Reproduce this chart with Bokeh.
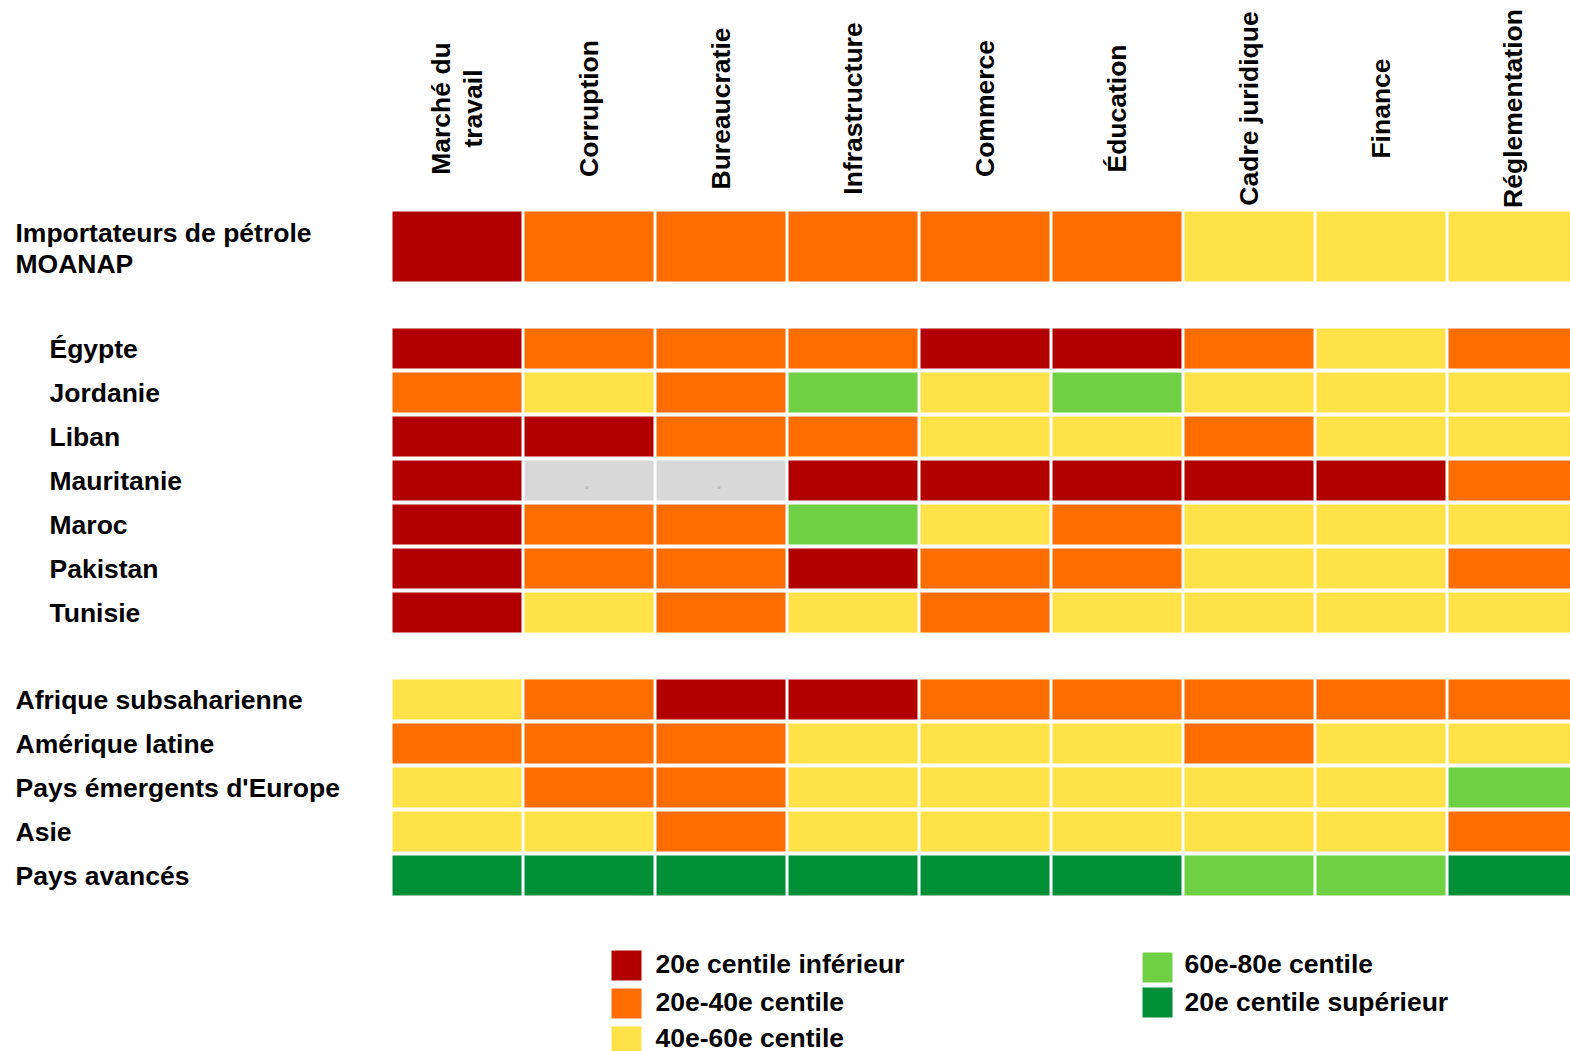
from bokeh.plotting import figure
from bokeh.models import Range1d, ColumnDataSource
from bokeh.core.properties import value
from bokeh.embed import file_html
from bokeh.resources import INLINE
import math

# Indicator columns
indicators = ["Marché du\ntravail", "Corruption", "Bureaucratie", "Infrastructure",
              "Commerce", "Éducation", "Cadre juridique", "Finance", "Réglementation"]

# Percentile class of each cell: 0 = bottom 20th, 1 = 20th-40th, 2 = 40th-60th,
# 3 = 60th-80th, 4 = top 20th, -1 = no data
aggregate_names = ["Importateurs de pétrole\nMOANAP"]
aggregate_scores = [
    [0, 1, 1, 1, 1, 1, 2, 2, 2],
]

country_names = ["Égypte", "Jordanie", "Liban", "Mauritanie", "Maroc", "Pakistan", "Tunisie"]
country_scores = [
    [0, 1, 1, 1, 0, 0, 1, 2, 1],
    [1, 2, 1, 3, 2, 3, 2, 2, 2],
    [0, 0, 1, 1, 2, 2, 1, 2, 2],
    [0, -1, -1, 0, 0, 0, 0, 0, 1],
    [0, 1, 1, 3, 2, 1, 2, 2, 2],
    [0, 1, 1, 0, 1, 1, 2, 2, 1],
    [0, 2, 1, 2, 1, 2, 2, 2, 2],
]

region_names = ["Afrique subsaharienne", "Amérique latine", "Pays émergents d'Europe",
                "Asie", "Pays avancés"]
region_scores = [
    [2, 1, 0, 0, 1, 1, 1, 1, 1],
    [1, 1, 1, 2, 2, 2, 1, 2, 2],
    [2, 1, 1, 2, 2, 2, 2, 2, 3],
    [2, 2, 1, 2, 2, 2, 2, 2, 1],
    [4, 4, 4, 4, 4, 4, 3, 3, 4],
]

legend_labels = ["20e centile inférieur", "20e-40e centile", "40e-60e centile",
                 "60e-80e centile", "20e centile supérieur"]

# Styling
palette = {0: "#B20000", 1: "#FF6D00", 2: "#FFE248", 3: "#70D044", 4: "#008F36", -1: "#D8D8D8"}
FONT = value("Liberation Sans")
FONT_SIZE = "26.5px"

W, H = 1570, 1051
GRID_LEFT = 392
COL_PITCH = 132
CELL_W = 129
ROW_H = 40
GROUP_GAP = 47

p = figure(width=W, height=H, x_range=Range1d(0, W), y_range=Range1d(H, 0),
           output_backend="svg", toolbar_location=None, min_border=0)
p.axis.visible = False
p.grid.visible = False
p.outline_line_color = None
p.background_fill_color = "white"
p.border_fill_color = "white"

col_centers = [GRID_LEFT + COL_PITCH * j + CELL_W / 2 for j in range(len(indicators))]

# Column headers, rotated
p.text(x=col_centers, y=[108] * len(indicators), text=indicators, angle=math.pi / 2,
       text_align="center", text_baseline="middle", text_font=FONT,
       text_font_size=FONT_SIZE, text_font_style="bold", text_color="black",
       text_line_height=1.05)

groups = [
    (aggregate_names, aggregate_scores, 70, 15),
    (country_names, country_scores, ROW_H, 49),
    (region_names, region_scores, ROW_H, 15),
]

cx, cy, ch, cc = [], [], [], []
lx, ly, lt = [], [], []
missing_x, missing_y = [], []

top = 211
for names, scores, h, indent in groups:
    pitch = h + 4
    for i, (name, row) in enumerate(zip(names, scores)):
        yc = top + i * pitch + h / 2
        lx.append(indent)
        ly.append(yc + 2 if "\n" in name else yc)
        lt.append(name)
        for j, s in enumerate(row):
            cx.append(col_centers[j])
            cy.append(yc)
            ch.append(h)
            cc.append(palette[s])
            if s < 0:
                missing_x.append(col_centers[j] - 2)
                missing_y.append(yc + 7)
    top = top + len(names) * pitch - 4 + GROUP_GAP

cells = ColumnDataSource(dict(x=cx, y=cy, h=ch, color=cc))
p.rect(x="x", y="y", width=CELL_W, height="h", fill_color="color", line_color=None,
       source=cells)

# small marker on cells without data
p.rect(x=missing_x, y=missing_y, width=3, height=3, fill_color="#C4C4C4", line_color=None)

p.text(x=lx, y=ly, text=lt, text_align="left", text_baseline="middle", text_font=FONT,
       text_font_size=FONT_SIZE, text_font_style="bold", text_color="black",
       text_line_height=1.05)

# Legend in two columns
leg_x = [626, 626, 626, 1157, 1157]
leg_y = [965, 1003, 1041, 967, 1002]
txt_x = [655, 655, 655, 1184, 1184]
txt_y = [963, 1001, 1037, 963, 1001]
p.rect(x=leg_x, y=leg_y, width=30, height=30,
       fill_color=[palette[k] for k in range(5)], line_color=None)
p.text(x=txt_x, y=txt_y, text=legend_labels, text_align="left", text_baseline="middle",
       text_font=FONT, text_font_size=FONT_SIZE, text_font_style="bold", text_color="black")

open("out.html", "w").write(file_html(p, INLINE))
